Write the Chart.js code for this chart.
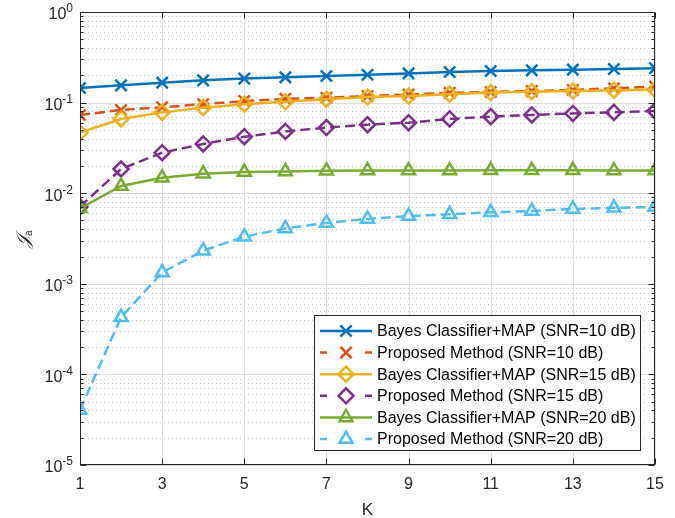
<!DOCTYPE html>
<html>
<head>
<meta charset="utf-8">
<script src="https://cdn.jsdelivr.net/npm/chart.js@4.4.1/dist/chart.umd.min.js"></script>
<style>
  html, body { margin: 0; padding: 0; background: #ffffff; }
  #chart { display: block; }
</style>
</head>
<body>
<canvas id="chart" width="675" height="518"></canvas>
<script>
// ===== Data =====
const kValues = [1, 2, 3, 4, 5, 6, 7, 8, 9, 10, 11, 12, 13, 14, 15];
const xTicks = [1, 3, 5, 7, 9, 11, 13, 15];
const yDecades = [-5, -4, -3, -2, -1, 0];

const bayes10    = [0.145, 0.155, 0.166, 0.176, 0.184, 0.190, 0.197, 0.203, 0.210, 0.218, 0.223, 0.227, 0.231, 0.235, 0.239];
const proposed10 = [0.073, 0.083, 0.089, 0.096, 0.104, 0.110, 0.113, 0.118, 0.123, 0.128, 0.131, 0.134, 0.138, 0.144, 0.150];
const bayes15    = [0.0466, 0.066, 0.078, 0.088, 0.096, 0.102, 0.109, 0.115, 0.118, 0.124, 0.129, 0.132, 0.134, 0.137, 0.139];
const proposed15 = [0.0071, 0.0185, 0.028, 0.035, 0.042, 0.048, 0.053, 0.057, 0.060, 0.066, 0.070, 0.073, 0.076, 0.078, 0.081];
const bayes20    = [0.0068, 0.012, 0.0148, 0.0164, 0.0171, 0.0174, 0.0177, 0.0178, 0.0178, 0.0178, 0.0179, 0.0179, 0.0179, 0.0178, 0.0178];
const proposed20 = [4.05e-5, 4.27e-4, 1.33e-3, 2.32e-3, 3.31e-3, 4.09e-3, 4.69e-3, 5.2e-3, 5.6e-3, 5.85e-3, 6.15e-3, 6.35e-3, 6.7e-3, 6.9e-3, 7.05e-3];

const seriesLabels = [
  'Bayes Classifier+MAP (SNR=10 dB)',
  'Proposed Method (SNR=10 dB)',
  'Bayes Classifier+MAP (SNR=15 dB)',
  'Proposed Method (SNR=15 dB)',
  'Bayes Classifier+MAP (SNR=20 dB)',
  'Proposed Method (SNR=20 dB)'
];
const seriesValues = [bayes10, proposed10, bayes15, proposed15, bayes20, proposed20];
const seriesColors = ['#0072BD', '#D95319', '#EDB120', '#7E2F8E', '#77AC30', '#4DBEEE'];
const seriesMarkers = ['crossRot', 'crossRot', 'rectRot', 'rectRot', 'triangle', 'triangle'];
const seriesDashed = [false, true, false, true, false, true];

// ===== Style =====
const font = "'Liberation Sans', Arial, Helvetica, sans-serif";
const axisColor = '#262626';
const gridMajor = '#dedede';
const gridMinor = '#c6c6c6';

// ===== Datasets =====
const datasets = seriesValues.map((vals, i) => ({
  label: seriesLabels[i],
  data: vals.map((v, j) => ({ x: kValues[j], y: v })),
  borderColor: seriesColors[i],
  backgroundColor: 'rgba(0,0,0,0)',
  borderWidth: 2.5,
  borderDash: seriesDashed[i] ? [10, 5] : [],
  pointStyle: seriesMarkers[i],
  pointRadius: seriesMarkers[i] === 'crossRot' ? 8 : 7.5,
  pointBorderWidth: 2.5,
  pointBorderColor: seriesColors[i],
  pointBackgroundColor: 'rgba(0,0,0,0)',
  tension: 0,
  order: seriesValues.length - i
}));

// ===== Decorations: grid, box, ticks, labels, legend =====
const matlabLook = {
  id: 'matlabLook',
  beforeDatasetsDraw(chart) {
    const { ctx, chartArea: a, scales: { x, y } } = chart;
    ctx.save();
    ctx.lineWidth = 1;
    // minor dotted grid (y only)
    ctx.strokeStyle = gridMinor;
    ctx.setLineDash([1, 3]);
    yDecades.slice(0, -1).forEach(d => {
      for (let m = 2; m <= 9; m++) {
        const py = Math.round(y.getPixelForValue(m * Math.pow(10, d))) + 0.5;
        ctx.beginPath(); ctx.moveTo(a.left, py); ctx.lineTo(a.right, py); ctx.stroke();
      }
    });
    ctx.setLineDash([]);
    // major grid
    ctx.strokeStyle = gridMajor;
    xTicks.forEach(t => {
      const px = Math.round(x.getPixelForValue(t)) + 0.5;
      ctx.beginPath(); ctx.moveTo(px, a.top); ctx.lineTo(px, a.bottom); ctx.stroke();
    });
    yDecades.forEach(d => {
      const py = Math.round(y.getPixelForValue(Math.pow(10, d))) + 0.5;
      ctx.beginPath(); ctx.moveTo(a.left, py); ctx.lineTo(a.right, py); ctx.stroke();
    });
    ctx.restore();
  },
  afterDraw(chart) {
    const { ctx, chartArea: a, scales: { x, y } } = chart;
    ctx.save();
    ctx.strokeStyle = axisColor;
    ctx.lineWidth = 1;
    const L = Math.round(a.left) + 0.5, R = Math.round(a.right) - 0.5;
    const T = Math.round(a.top) + 0.5, B = Math.round(a.bottom) - 0.5;
    ctx.strokeRect(L, T, R - L, B - T);

    // x ticks (bottom + top, inward)
    xTicks.forEach(t => {
      const px = Math.round(x.getPixelForValue(t)) + 0.5;
      ctx.beginPath();
      ctx.moveTo(px, B); ctx.lineTo(px, B - 6);
      ctx.moveTo(px, T); ctx.lineTo(px, T + 6);
      ctx.stroke();
    });
    // y ticks (left + right, inward), major + minor
    yDecades.forEach(d => {
      const py = Math.round(y.getPixelForValue(Math.pow(10, d))) + 0.5;
      ctx.beginPath();
      ctx.moveTo(L, py); ctx.lineTo(L + 6, py);
      ctx.moveTo(R, py); ctx.lineTo(R - 6, py);
      ctx.stroke();
      if (d < 0) {
        for (let m = 2; m <= 9; m++) {
          const pm = Math.round(y.getPixelForValue(m * Math.pow(10, d))) + 0.5;
          ctx.beginPath();
          ctx.moveTo(L, pm); ctx.lineTo(L + 3, pm);
          ctx.moveTo(R, pm); ctx.lineTo(R - 3, pm);
          ctx.stroke();
        }
      }
    });

    // tick labels
    ctx.fillStyle = axisColor;
    ctx.font = '16px ' + font;
    ctx.textAlign = 'center';
    ctx.textBaseline = 'middle';
    xTicks.forEach(t => ctx.fillText(String(t), x.getPixelForValue(t), 485));

    yDecades.forEach(d => {
      const py = y.getPixelForValue(Math.pow(10, d));
      const exp = String(d);
      ctx.font = '12px ' + font;
      const ew = ctx.measureText(exp).width;
      ctx.textAlign = 'right';
      ctx.fillText(exp, a.left - 7, py - 3);
      ctx.font = '16px ' + font;
      ctx.fillText('10', a.left - 7 - ew, py + 3);
    });

    // axis titles
    ctx.textAlign = 'center';
    ctx.font = '17px ' + font;
    ctx.fillText('K', (a.left + a.right) / 2, 510);

    ctx.save();
    ctx.translate(24, 239);
    ctx.rotate(-Math.PI / 2);
    ctx.textAlign = 'left';
    ctx.font = 'italic 18px DejaVu Serif, serif';
    const jw = ctx.measureText('𝒥').width;
    ctx.fillText('𝒥', -(jw + 6) / 2, 0);
    ctx.font = '10px ' + font;
    ctx.fillText('a', -(jw + 6) / 2 + jw, 5);
    ctx.restore();

    // legend
    const bx = 314.5, by = 315.5, bw = 326, bh = 135;
    ctx.fillStyle = '#ffffff';
    ctx.fillRect(bx, by, bw, bh);
    ctx.strokeStyle = axisColor;
    ctx.strokeRect(bx, by, bw, bh);
    chart.data.datasets.forEach((ds, i) => {
      const cy = 331 + i * 21.6;
      ctx.strokeStyle = ds.borderColor;
      ctx.lineWidth = ds.borderWidth;
      ctx.setLineDash(seriesDashed[i] ? [7, 38] : []);
      ctx.beginPath(); ctx.moveTo(320, cy); ctx.lineTo(372, cy); ctx.stroke();
      ctx.setLineDash([]);
      ctx.fillStyle = 'rgba(0,0,0,0)';
      Chart.helpers.drawPoint(ctx, {
        pointStyle: ds.pointStyle, radius: ds.pointRadius, rotation: 0, borderWidth: ds.pointBorderWidth
      }, 346, cy);
      ctx.fillStyle = '#000000';
      ctx.font = '16px ' + font;
      ctx.textAlign = 'left';
      ctx.fillText(ds.label, 377, cy + 1);
    });
    ctx.restore();
  }
};

new Chart(document.getElementById('chart'), {
  type: 'line',
  data: { datasets },
  options: {
    responsive: false,
    animation: false,
    events: [],
    layout: { padding: { left: 0, top: 12, right: 20, bottom: 0 } },
    plugins: { legend: { display: false }, tooltip: { enabled: false } },
    scales: {
      x: {
        type: 'linear', min: 1, max: 15,
        grid: { display: false }, border: { display: false },
        ticks: { display: false },
        afterFit: s => { s.height = 53; }
      },
      y: {
        type: 'logarithmic', min: 1e-5, max: 1,
        grid: { display: false }, border: { display: false },
        ticks: { display: false },
        afterFit: s => { s.width = 80; }
      }
    }
  },
  plugins: [matlabLook]
});
</script>
</body>
</html>
